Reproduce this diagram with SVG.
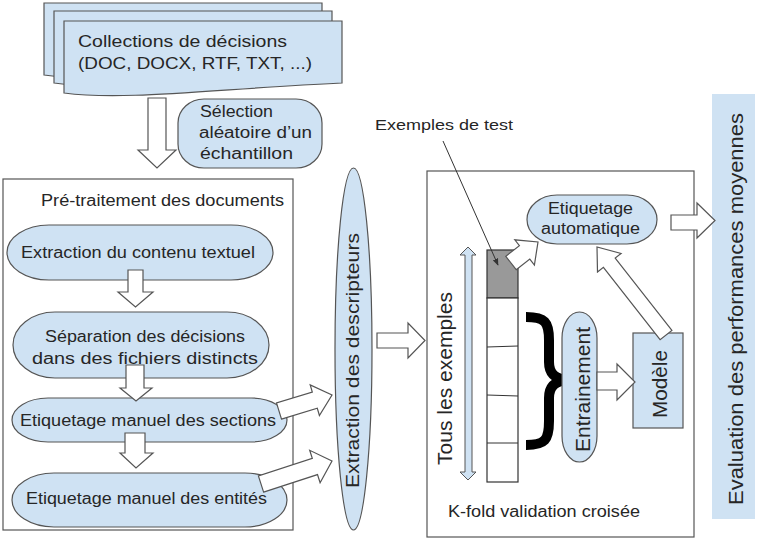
<svg xmlns="http://www.w3.org/2000/svg" width="759" height="540" viewBox="0 0 759 540">
<defs>
<style>
.n{fill:#cfe2f3;stroke:#555;stroke-width:1.2}
.w{fill:#fff;stroke:#555;stroke-width:1.2}
.t{font-family:"Liberation Sans",Arial,sans-serif;font-size:16px;fill:#262626}
.v{font-family:"Liberation Sans",Arial,sans-serif;font-size:20px;fill:#262626}
.frame{fill:#fff;stroke:#555;stroke-width:1.2}
</style>
<path id="doc" d="M0,0 H278 V62 C150,68 60,80 0,72 Z"/>
<marker id="ah" viewBox="0 0 10 10" refX="9" refY="5" markerWidth="7" markerHeight="7" orient="auto" markerUnits="userSpaceOnUse">
<path d="M0,1 L10,5 L0,9 Z" fill="#333"/>
</marker>
</defs>
<rect width="759" height="540" fill="#fff"/>

<g id="collections">
<use href="#doc" x="44" y="3" class="n"/>
<use href="#doc" x="54" y="11" class="n"/>
<use href="#doc" x="64" y="21" class="n"/>
<text class="t" x="78" y="47" textLength="209" lengthAdjust="spacingAndGlyphs">Collections de décisions</text>
<text class="t" x="78" y="69" textLength="234" lengthAdjust="spacingAndGlyphs">(DOC, DOCX, RTF, TXT, ...)</text>
</g>

<g id="selection">
<rect x="178" y="99" width="144" height="69" rx="26" ry="24" class="n"/>
<text class="t" x="200" y="117" textLength="73" lengthAdjust="spacingAndGlyphs">Sélection</text>
<text class="t" x="199" y="138" textLength="113" lengthAdjust="spacingAndGlyphs">aléatoire d’un</text>
<text class="t" x="200" y="159" textLength="93" lengthAdjust="spacingAndGlyphs">échantillon</text>
</g>

<g id="pretraitement">
<rect x="3" y="179" width="290" height="351" class="frame"/>
<text class="t" x="41" y="206" textLength="243" lengthAdjust="spacingAndGlyphs">Pré-traitement des documents</text>
</g>

<g id="extraction-contenu">
<rect x="7" y="225" width="266" height="55" rx="42" ry="27.5" class="n"/>
<text class="t" x="21" y="258" textLength="234" lengthAdjust="spacingAndGlyphs">Extraction du contenu textuel</text>
</g>

<g id="separation">
<rect x="13" y="312" width="256" height="66" rx="42" ry="33" class="n"/>
<text class="t" x="45" y="342" textLength="200" lengthAdjust="spacingAndGlyphs">Séparation des décisions</text>
<text class="t" x="32" y="364" textLength="226" lengthAdjust="spacingAndGlyphs">dans des fichiers distincts</text>
</g>

<g id="etiquetage-sections">
<rect x="12" y="398" width="275" height="44" rx="36" ry="22" class="n"/>
<text class="t" x="20" y="426" textLength="256" lengthAdjust="spacingAndGlyphs">Etiquetage manuel des sections</text>
</g>

<g id="etiquetage-entites">
<rect x="12" y="473" width="275" height="54" rx="42" ry="27" class="n"/>
<text class="t" x="26" y="504" textLength="241" lengthAdjust="spacingAndGlyphs">Etiquetage manuel des entités</text>
</g>

<g id="extraction-descripteurs">
<ellipse cx="353.5" cy="349" rx="18.5" ry="181" class="n"/>
<text class="v" transform="translate(359,488) rotate(-90)" textLength="255" lengthAdjust="spacingAndGlyphs" style="font-size:19px">Extraction des descripteurs</text>
</g>

<g id="kfold">
<rect x="427" y="171" width="267" height="366" class="frame"/>
<text class="t" x="448" y="517" textLength="192" lengthAdjust="spacingAndGlyphs">K-fold validation croisée</text>
</g>

<g id="exemples-label">
<text class="t" x="375" y="130" textLength="138" lengthAdjust="spacingAndGlyphs" style="font-size:15.5px">Exemples de test</text>
</g>

<g id="tous-exemples">
<polygon points="468,247 476,255 472,255 472,472 476,472 468,480 460,472 465,472 465,255 460,255" class="n" style="stroke-width:1"/>
<text class="v" transform="translate(452,465) rotate(-90)" textLength="173" lengthAdjust="spacingAndGlyphs">Tous les exemples</text>
</g>

<g id="folds">
<rect x="487" y="250" width="31" height="48" fill="#999" stroke="#333" stroke-width="1.2"/>
<rect x="487" y="298" width="31" height="184" fill="#fff" stroke="#333" stroke-width="1.2"/>
<line x1="487" y1="347" x2="518" y2="346" stroke="#333" stroke-width="1"/>
<line x1="487" y1="395" x2="518" y2="396" stroke="#333" stroke-width="1"/>
<line x1="487" y1="443" x2="518" y2="443" stroke="#333" stroke-width="1"/>
</g>

<g id="accolade">
<path d="M526,317 C545,317 549,322 549,340 L549,362 C549,374 556,379 567,380 C556,381 549,386 549,398 L549,421 C549,440 545,445 526,445" fill="none" stroke="#000" stroke-width="10"/>
</g>

<g id="entrainement">
<rect x="562" y="312" width="35" height="150" rx="17.5" ry="26" class="n"/>
<text class="v" transform="translate(590,452) rotate(-90)" textLength="125" lengthAdjust="spacingAndGlyphs">Entrainement</text>
</g>

<g id="modele">
<rect x="633" y="333" width="50" height="95" class="n"/>
<text class="v" transform="translate(667,418) rotate(-90)" textLength="68" lengthAdjust="spacingAndGlyphs">Modèle</text>
</g>

<g id="etiquetage-auto">
<rect x="527" y="195" width="130" height="49" rx="30" ry="24.5" class="n"/>
<text class="t" x="548" y="214" textLength="85" lengthAdjust="spacingAndGlyphs">Etiquetage</text>
<text class="t" x="541" y="234" textLength="99" lengthAdjust="spacingAndGlyphs">automatique</text>
</g>

<g id="evaluation">
<rect x="712" y="94" width="43" height="425" fill="#cfe2f3"/>
<text class="v" transform="translate(743,505) rotate(-90)" textLength="392" lengthAdjust="spacingAndGlyphs">Evaluation des performances moyennes</text>
</g>

<g id="connectors">
<polygon class="w" points="148,98 166,98 166,150 176,150 157,168 138,150 148,150"/>
<polygon class="w" points="128,270 143,270 143,292 153,292 135.5,307 118,292 128,292"/>
<polygon class="w" points="126,365 144,365 144,388 152,388 136,401 120,388 126,388"/>
<polygon class="w" points="125,433 145,433 145,453 153,453 136,468 120,453 125,453"/>
<polygon class="w" points="281.5,419.1 317.3,408.3 319.4,415.5 332,395 310.2,384.9 312.3,392.1 276.5,402.9"/>
<polygon class="w" points="263.6,492.1 317.5,474.6 320.1,482.7 332,461 309.7,450.3 312.3,458.4 258.4,475.9"/>
<polygon class="w" points="377,333 408,333 408,323 425,340.5 408,358 408,348 377,348"/>
<polygon class="w" points="516.2,269.7 529.8,259.1 534.4,265 538,242 514.8,239.8 519.4,245.7 505.8,256.3"/>
<polygon class="w" points="597,372 617,372 617,364 635,382 617,400 617,390 597,390"/>
<polygon class="w" points="671.9,330.4 615.2,258.1 621.1,253.4 597,247 597.5,272 603.4,267.3 660.1,339.6"/>
<polygon class="w" points="671,215 697,215 697,203 715,220.5 697,238 697,230 671,230"/>
<line x1="443" y1="141" x2="498" y2="265" stroke="#333" stroke-width="1" marker-end="url(#ah)"/>
</g>
</svg>
